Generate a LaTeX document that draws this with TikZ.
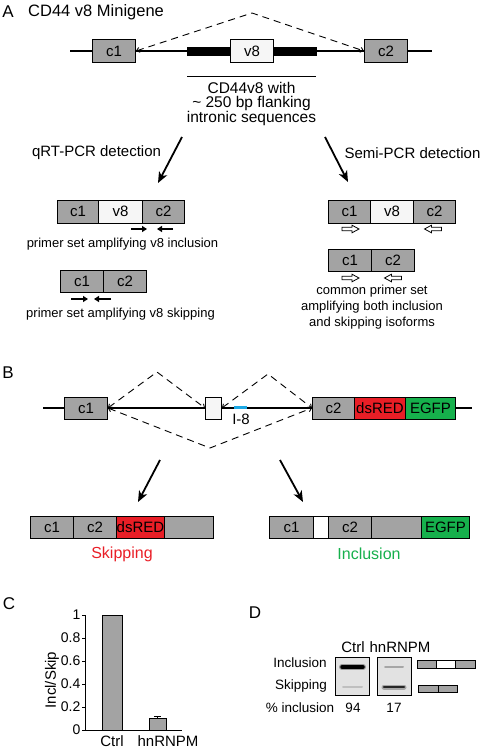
\documentclass[tikz,border=0pt]{standalone}
\usepackage{fontspec}
\setmainfont{Liberation Sans}
\usetikzlibrary{arrows.meta}

\definecolor{exongray}{RGB}{163,163,163}
\definecolor{exonlight}{RGB}{246,246,246}
\definecolor{dsred}{RGB}{233,30,38}
\definecolor{egfp}{RGB}{22,176,76}
\definecolor{introblue}{RGB}{28,168,228}
\definecolor{gelbg}{RGB}{226,226,226}

% hollow primer glyph: position, direction (1 right, -1 left)
\newcommand{\openprimer}[2]{\draw[openprimer, shift={(#1)}, xscale=#2] (-8.5,-1.7) -- (1.5,-1.7) -- (1.5,-3.8) -- (8.5,0) -- (1.5,3.8) -- (1.5,1.7) -- (-8.5,1.7) -- cycle;}

\begin{document}
\begin{tikzpicture}[x=1pt, y=-1pt,
  every node/.style={inner sep=0pt, font=\fontsize{15}{15}\selectfont},
  panel/.style={font=\fontsize{17}{17}\selectfont},
  small/.style={font=\fontsize{13}{16}\selectfont, align=center},
  exon/.style={draw=black, line width=0.9pt, fill=exongray, minimum height=23pt, anchor=west},
  backbone/.style={line width=1.3pt},
  splice/.style={line width=0.9pt, dash pattern=on 7pt off 5pt, {Straight Barb[length=3pt,width=5pt]}-{Straight Barb[length=3pt,width=5pt]}},
  pcrarrow/.style={line width=1.8pt, -{Stealth[length=11pt, width=9pt, inset=3pt]}},
  primer/.style={line width=1.8pt, -{Triangle[length=5pt, width=6pt]}},
  openprimer/.style={draw=black, fill=white, line width=0.8pt},
  bar/.style={draw=black, line width=0.9pt, fill=exongray}]

\useasboundingbox (0,0) rectangle (485,750);

% ---- A ----
\node[panel] (pa) at (8,12) {A};
\node[font=\fontsize{16.5}{17}\selectfont, anchor=west] (atitle) at (28,12) {CD44 v8 Minigene};
\coordinate (al) at (70,51);
\coordinate (ar) at (432,51);
\draw[backbone] (al) -- (ar);
\fill (187,46.5) rectangle (317,55.5);
\node[exon, minimum width=43pt] (ac1) at (92,51) {c1};
\node[exon, fill=exonlight, minimum width=43pt] (av8) at (230,51) {v8};
\node[exon, minimum width=43pt] (ac2) at (364,51) {c2};
\coordinate (atop) at (252,13);
\draw[splice] (ac1.east) -- (atop) -- (ac2.west);
\draw[line width=0.8pt] (187,76) -- (316,76);
\node[align=center, font=\fontsize{15.5}{14.5}\selectfont] (aflank) at (251.5,103.5) {CD44v8 with\\\textasciitilde\ 250 bp flanking\\intronic sequences};

\node (qlab) at (96.5,153) {qRT-PCR detection};
\node (slab) at (412.5,153) {Semi-PCR detection};
\coordinate (qs) at (182,137);
\coordinate (qe) at (158,183);
\coordinate (ss) at (325,137);
\coordinate (se) at (348,182);
\draw[pcrarrow] (qs) -- (qe);
\draw[pcrarrow] (ss) -- (se);

% qRT-PCR products
\node[exon, minimum width=41pt] (qc1) at (57,211.5) {c1};
\node[exon, fill=exonlight, minimum width=44pt] (qv8) at (98,211.5) {v8};
\node[exon, minimum width=42pt] (qc2) at (142,211.5) {c2};
\draw[primer] (131,229) -- (147,229);
\draw[primer] (173,229) -- (157,229);
\node[small] (qinc) at (122.5,244) {primer set amplifying v8 inclusion};

\node[exon, minimum width=43pt, minimum height=22pt] (kc1) at (60,281) {c1};
\node[exon, minimum width=43pt, minimum height=22pt] (kc2) at (103,281) {c2};
\draw[primer] (71,299) -- (88,299);
\draw[primer] (111,299) -- (94,299);
\node[small] (qskip) at (120.5,314) {primer set amplifying v8 skipping};

% semi-PCR products
\node[exon, minimum width=42pt] (sc1) at (328,211.5) {c1};
\node[exon, fill=exonlight, minimum width=43pt] (sv8) at (370,211.5) {v8};
\node[exon, minimum width=42pt] (sc2) at (413,211.5) {c2};
\openprimer{350.5,229}{1}
\openprimer{433,229}{-1}
\node[exon, minimum width=43pt, minimum height=22pt] (tc1) at (328,260) {c1};
\node[exon, minimum width=43pt, minimum height=22pt] (tc2) at (371,260) {c2};
\openprimer{350.5,278}{1}
\openprimer{393,278}{-1}
\node[small] (scom) at (372,307) {common primer set\\amplifying both inclusion\\and skipping isoforms};

% ---- B ----
\node[panel] (pb) at (8,373) {B};
\coordinate (bl) at (43,408);
\coordinate (br) at (472,408);
\draw[backbone] (bl) -- (br);
\node[exon, minimum width=43pt, minimum height=22pt] (bc1) at (64,408) {c1};
\node[exon, fill=exonlight, minimum width=16pt, minimum height=22pt] (bv8) at (205,408) {};
\draw[introblue, line width=3pt] (234,407) -- (247,407);
\node (bi8) at (241,419) {I-8};
\node[exon, minimum width=42pt, minimum height=22pt] (bc2) at (312,408) {c2};
\node[exon, fill=dsred, minimum width=51pt, minimum height=22pt] (bred) at (354,408) {dsRED};
\node[exon, fill=egfp, minimum width=50pt, minimum height=22pt] (bgfp) at (405,408) {EGFP};
\coordinate (bup1) at (157,372);
\coordinate (bup2) at (268,374);
\coordinate (bdown) at (210,448);
\draw[splice] (bc1.east) -- (bup1) -- (bv8.west);
\draw[splice] (bv8.east) -- (bup2) -- (bc2.west);
\draw[splice] (bc1.east) -- (bdown) -- (bc2.west);

\coordinate (ks) at (160,460);
\coordinate (ke) at (138,502);
\coordinate (is) at (280,460);
\coordinate (ie) at (303,502);
\draw[pcrarrow] (ks) -- (ke);
\draw[pcrarrow] (is) -- (ie);

% skipping reporter
\node[exon, minimum width=43pt, minimum height=22pt] (kr1) at (30,527) {c1};
\node[exon, minimum width=43pt, minimum height=22pt] (kr2) at (73,527) {c2};
\node[exon, fill=dsred, minimum width=48pt, minimum height=22pt] (kr3) at (116,527) {dsRED};
\node[exon, minimum width=49pt, minimum height=22pt] (kr4) at (164,527) {};
\node[text=dsred, font=\fontsize{16}{16}\selectfont] (kskip) at (122,554) {Skipping};

% inclusion reporter
\node[exon, minimum width=44pt, minimum height=22pt] (ir1) at (269,527) {c1};
\node[exon, fill=white, minimum width=15pt, minimum height=22pt] (ir2) at (313,527) {};
\node[exon, minimum width=43pt, minimum height=22pt] (ir3) at (328,527) {c2};
\node[exon, minimum width=50pt, minimum height=22pt] (ir4) at (371,527) {};
\node[exon, fill=egfp, minimum width=48pt, minimum height=22pt] (ir5) at (421,527) {EGFP};
\node[text=egfp, font=\fontsize{16}{16}\selectfont] (iinc) at (369,554) {Inclusion};

% ---- C ----
\node[panel] (pc) at (9,604) {C};
\draw[line width=0.9pt] (85,615) -- (85,730) -- (182,730);
\foreach \i/\v in {0/0,1/0.2,2/0.4,3/0.6,4/0.8,5/1}{
  \draw[line width=0.9pt] (82,730-23*\i) -- (85,730-23*\i);
  \node[anchor=east, font=\fontsize{14}{14}\selectfont] (tick\i) at (80.5,730-23*\i) {\v};
}
\draw[bar] (102,730) rectangle (122,615);
\draw[bar] (149,730) rectangle (166,718);
\draw[line width=0.8pt] (157.5,718) -- (157.5,716.3);
\draw[line width=0.8pt] (154,716.3) -- (161,716.3);
\node[rotate=90] (cy) at (52,680) {Incl/Skip};
\node (cctrl) at (112,741) {Ctrl};
\node (chnr) at (168,741) {hnRNPM};

% ---- D ----
\node[panel] (pd) at (255,613) {D};
\node (dctrl) at (353,647) {Ctrl};
\node (dhnr) at (400,647) {hnRNPM};
\node[draw=black, line width=0.9pt, fill=gelbg, minimum width=34pt, minimum height=38pt] (gel1) at (352,676) {};
\node[draw=black, line width=0.9pt, fill=gelbg, minimum width=34pt, minimum height=38pt] (gel2) at (394,676) {};
\draw[line width=6pt, black!40, line cap=round] (342,667) -- (363,667);
\draw[line width=3.5pt, black, line cap=round] (342,667) -- (363,667);
\draw[line width=2pt, black!25, line cap=round] (343,687) -- (362,687);
\draw[line width=2pt, black!35, line cap=round] (385,667) -- (403,667);
\draw[line width=5pt, black!35, line cap=round] (384,687) -- (404,687);
\draw[line width=2.5pt, black!85, line cap=round] (384,687) -- (404,687);
\node[font=\fontsize{13.5}{14}\selectfont] (dinc) at (300,663) {Inclusion};
\node[font=\fontsize{13.5}{14}\selectfont] (dskip) at (301,686) {Skipping};
\node[font=\fontsize{13.5}{14}\selectfont] (dpct) at (300,708) {\% inclusion};
\node[font=\fontsize{13.5}{14}\selectfont] (d94) at (353,708) {94};
\node[font=\fontsize{13.5}{14}\selectfont] (d17) at (394,708) {17};
\node[exon, line width=0.7pt, minimum width=19pt, minimum height=8pt] (di1) at (417,664) {};
\node[exon, line width=0.7pt, fill=white, minimum width=19pt, minimum height=8pt] (di2) at (436,664) {};
\node[exon, line width=0.7pt, minimum width=20pt, minimum height=8pt] (di3) at (455,664) {};
\node[exon, line width=0.7pt, minimum width=20pt, minimum height=7pt] (ds1) at (418,688.5) {};
\node[exon, line width=0.7pt, minimum width=19pt, minimum height=7pt] (ds2) at (438,688.5) {};
\end{tikzpicture}
\end{document}
